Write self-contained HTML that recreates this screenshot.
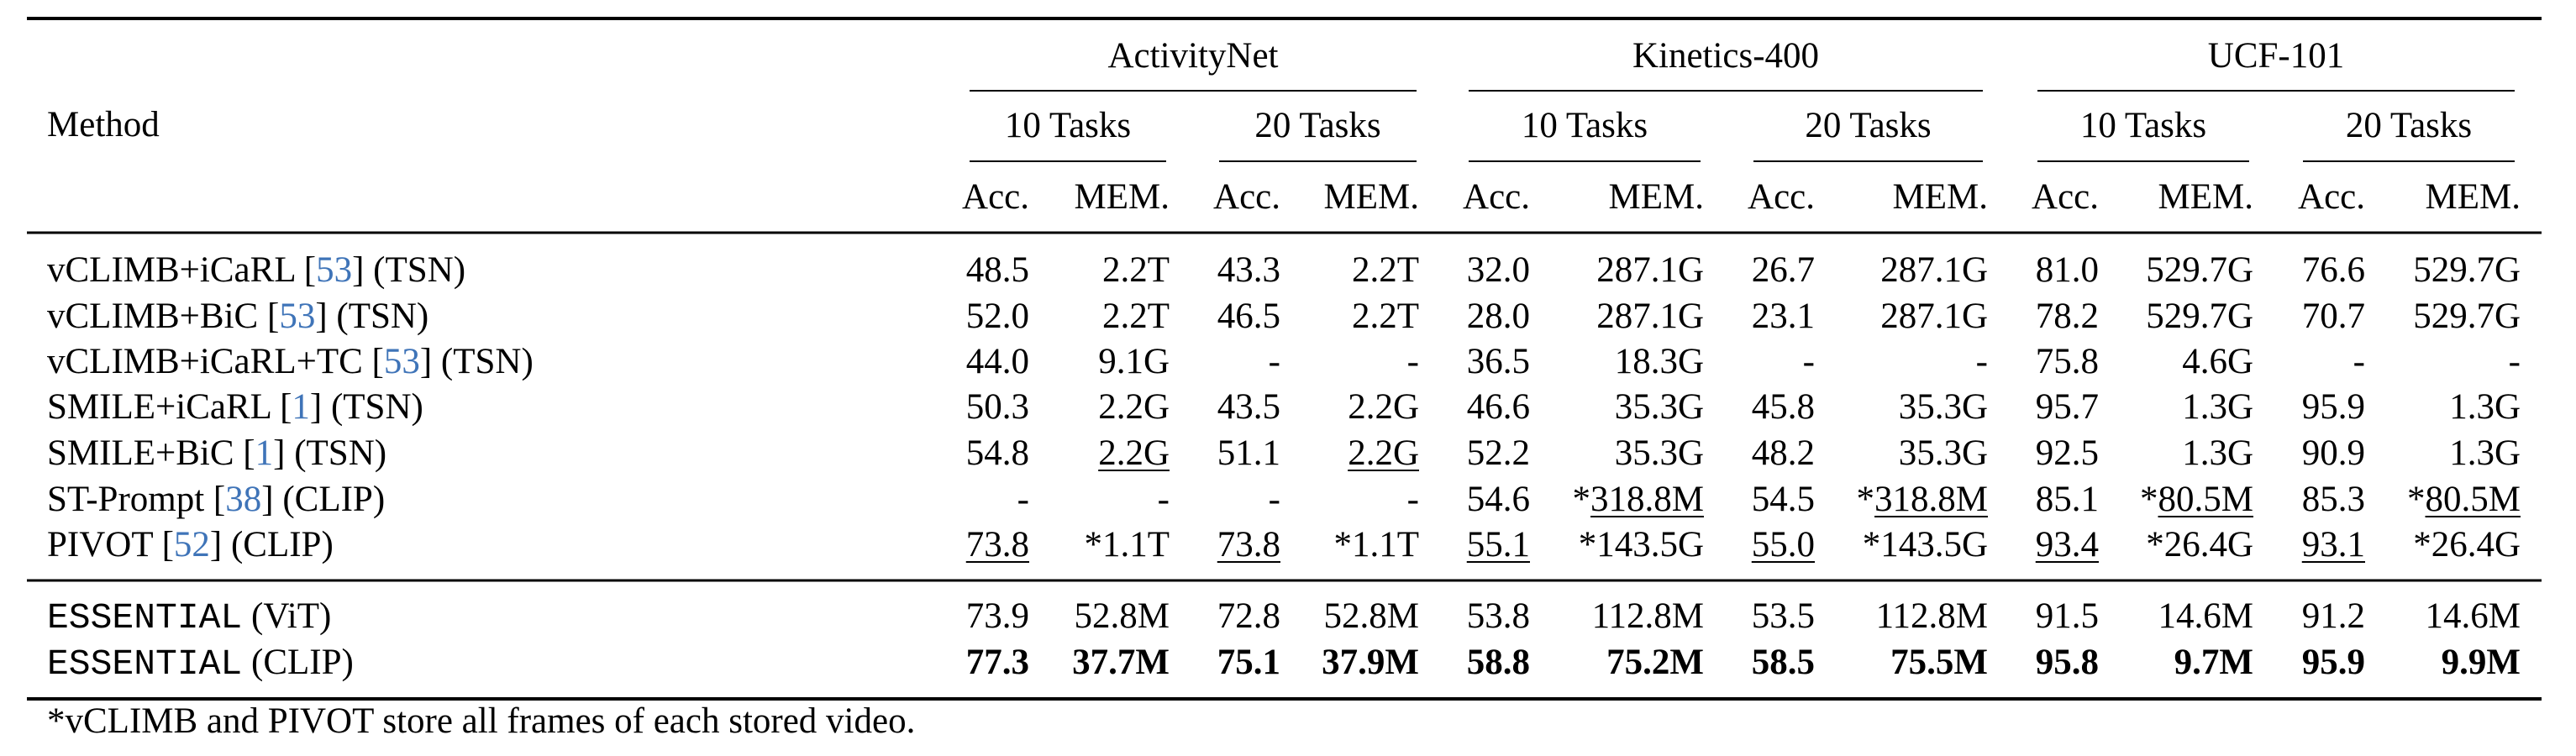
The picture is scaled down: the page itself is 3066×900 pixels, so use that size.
<!DOCTYPE html>
<html><head><meta charset="utf-8">
<style>
html,body{margin:0;padding:0;background:#fff;}
svg{display:block;}
text{font-family:"Liberation Serif",serif;font-size:43px;fill:#000;}
.mono{font-family:"Liberation Mono",monospace;}
.ref{fill:#3f74b8;}
</style></head>
<body>
<svg id="tbl" width="3066" height="900" viewBox="0 0 3066 900" xmlns="http://www.w3.org/2000/svg">
<g id="rules"></g>
<g id="head"></g>
<g id="body"></g>
</svg>
<script>
const methods = [
 ["vCLIMB+iCaRL [","53","] (TSN)"],
 ["vCLIMB+BiC [","53","] (TSN)"],
 ["vCLIMB+iCaRL+TC [","53","] (TSN)"],
 ["SMILE+iCaRL [","1","] (TSN)"],
 ["SMILE+BiC [","1","] (TSN)"],
 ["ST-Prompt [","38","] (CLIP)"],
 ["PIVOT [","52","] (CLIP)"]
];
const values = [
 ["48.5","2.2T","43.3","2.2T","32.0","287.1G","26.7","287.1G","81.0","529.7G","76.6","529.7G"],
 ["52.0","2.2T","46.5","2.2T","28.0","287.1G","23.1","287.1G","78.2","529.7G","70.7","529.7G"],
 ["44.0","9.1G","-","-","36.5","18.3G","-","-","75.8","4.6G","-","-"],
 ["50.3","2.2G","43.5","2.2G","46.6","35.3G","45.8","35.3G","95.7","1.3G","95.9","1.3G"],
 ["54.8","_2.2G","51.1","_2.2G","52.2","35.3G","48.2","35.3G","92.5","1.3G","90.9","1.3G"],
 ["-","-","-","-","54.6","*_318.8M","54.5","*_318.8M","85.1","*_80.5M","85.3","*_80.5M"],
 ["_73.8","*1.1T","_73.8","*1.1T","_55.1","*143.5G","_55.0","*143.5G","_93.4","*26.4G","_93.1","*26.4G"]
];
const oursNames = ["(ViT)","(CLIP)"];
const oursValues = [
 ["73.9","52.8M","72.8","52.8M","53.8","112.8M","53.5","112.8M","91.5","14.6M","91.2","14.6M"],
 ["77.3","37.7M","75.1","37.9M","58.8","75.2M","58.5","75.5M","95.8","9.7M","95.9","9.9M"]
];
const datasets = ["ActivityNet","Kinetics-400","UCF-101"];
const taskLabels = ["10 Tasks","20 Tasks"];

const NS="http://www.w3.org/2000/svg";
const colRight=[1225,1392,1524,1689,1821,2028,2160,2366,2498,2682,2815,3000];
const rowY=[335,390,444,498,553,608,662];
const oursY=[747,802];
function mk(tag,attrs,parent){const e=document.createElementNS(NS,tag);for(const k in attrs)e.setAttribute(k,attrs[k]);parent.appendChild(e);return e;}
const rules=document.getElementById('rules'),head=document.getElementById('head'),body=document.getElementById('body');
function line(x1,x2,y,w,name){const l=mk('rect',{x:x1,y:y-w/2,width:x2-x1,height:w,fill:'#000'},rules);

}
line(32,3025,22,4,'top-rule');
line(32,3025,277,3,'header-rule');
line(32,3025,691,3,'mid-rule');
line(32,3025,832,4,'bottom-rule');
const dsSpan=[[1154,1686],[1748,2360],[2425,2993]];
const taskSpan=[[1154,1388],[1451,1686],[1748,2024],[2087,2360],[2425,2677],[2741,2993]];
dsSpan.forEach((s,i)=>{line(s[0],s[1],108,2,'dataset-cmidrule');
const t=mk('text',{x:(s[0]+s[1])/2,y:80,'text-anchor':'middle'},head);t.textContent=datasets[i];

});
taskSpan.forEach((s,i)=>{line(s[0],s[1],192,2,'task-cmidrule');
const t=mk('text',{x:(s[0]+s[1])/2,y:163,'text-anchor':'middle'},head);t.textContent=taskLabels[i%2];

});
colRight.forEach((x,i)=>{const t=mk('text',{x:x,y:248,'text-anchor':'end'},head);t.textContent=i%2?"MEM.":"Acc.";

});
const mh=mk('text',{x:56,y:162},head);mh.textContent="Method";



function cell(v,x,y,bold){
  let star=false,ul=false;
  if(v[0]==='*'){star=true;v=v.slice(1);}
  if(v[0]==='_'){ul=true;v=v.slice(1);}
  const t=mk('text',{x:x,y:y,'text-anchor':'end'},body);
  if(bold)t.setAttribute('font-weight','bold');
  
  
  if(star){const s=mk('tspan',{},t);s.textContent='*';}
  const m=mk('tspan',{},t);m.textContent=v;
  if(ul){const w=m.getComputedTextLength();
    const u=mk('rect',{x:x-w,y:y+6,width:w,height:2,fill:'#000'},body);
    
    }
}
methods.forEach((m,r)=>{
  const t=mk('text',{x:56,y:rowY[r]},body);
  
  
  const a=mk('tspan',{},t);a.textContent=m[0];
  const b=mk('tspan',{class:'ref'},t);b.textContent=m[1];
  const c=mk('tspan',{},t);c.textContent=m[2];
  values[r].forEach((v,i)=>cell(v,colRight[i],rowY[r],false));
});
oursNames.forEach((n,r)=>{
  const t=mk('text',{x:56,y:oursY[r]},body);
  
  
  const a=mk('tspan',{class:'mono'},t);a.textContent="ESSENTIAL";
  const b=mk('tspan',{},t);b.textContent=" "+n;
  oursValues[r].forEach((v,i)=>cell(v,colRight[i],oursY[r],r===1));
});
const fn=mk('text',{x:56,y:872},body);
fn.textContent="*vCLIMB and PIVOT store all frames of each stored video.";


</script>
</body></html>
